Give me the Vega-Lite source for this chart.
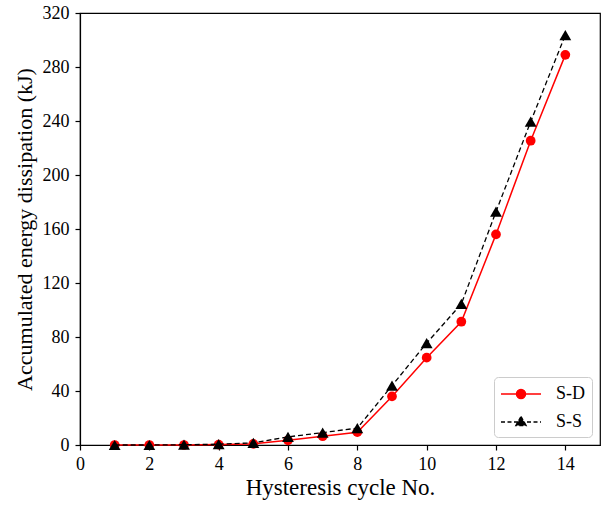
{
  "$schema": "https://vega.github.io/schema/vega-lite/v6.json",
  "width": 520,
  "height": 432,
  "padding": {"left": 80, "top": 13, "right": 1, "bottom": 60},
  "autosize": {"type": "none"},
  "background": "white",
  "data": {
    "values": [
      {"cycle": 1, "series": "S-D", "energy": 0},
      {"cycle": 2, "series": "S-D", "energy": 0},
      {"cycle": 3, "series": "S-D", "energy": 0},
      {"cycle": 4, "series": "S-D", "energy": 0.3},
      {"cycle": 5, "series": "S-D", "energy": 0.8},
      {"cycle": 6, "series": "S-D", "energy": 3.5},
      {"cycle": 7, "series": "S-D", "energy": 6.5},
      {"cycle": 8, "series": "S-D", "energy": 9.5},
      {"cycle": 9, "series": "S-D", "energy": 36},
      {"cycle": 10, "series": "S-D", "energy": 64.7},
      {"cycle": 11, "series": "S-D", "energy": 91.3},
      {"cycle": 12, "series": "S-D", "energy": 156},
      {"cycle": 13, "series": "S-D", "energy": 225.4},
      {"cycle": 14, "series": "S-D", "energy": 289},
      {"cycle": 1, "series": "S-S", "energy": 0},
      {"cycle": 2, "series": "S-S", "energy": 0},
      {"cycle": 3, "series": "S-S", "energy": 0.2},
      {"cycle": 4, "series": "S-S", "energy": 0.6},
      {"cycle": 5, "series": "S-S", "energy": 1.6},
      {"cycle": 6, "series": "S-S", "energy": 6},
      {"cycle": 7, "series": "S-S", "energy": 9.2},
      {"cycle": 8, "series": "S-S", "energy": 12.5},
      {"cycle": 9, "series": "S-S", "energy": 44},
      {"cycle": 10, "series": "S-S", "energy": 75.5},
      {"cycle": 11, "series": "S-S", "energy": 104.5},
      {"cycle": 12, "series": "S-S", "energy": 172.8},
      {"cycle": 13, "series": "S-S", "energy": 239.5},
      {"cycle": 14, "series": "S-S", "energy": 303.7}
    ]
  },
  "encoding": {
    "x": {
      "field": "cycle",
      "type": "quantitative",
      "scale": {"domain": [0, 15], "nice": false},
      "axis": {"values": [0, 2, 4, 6, 8, 10, 12, 14], "title": "Hysteresis cycle No."}
    },
    "y": {
      "field": "energy",
      "type": "quantitative",
      "scale": {"domain": [0, 320], "nice": false},
      "axis": {"values": [0, 40, 80, 120, 160, 200, 240, 280, 320], "title": "Accumulated energy dissipation (kJ)"}
    }
  },
  "layer": [
    {
      "transform": [{"filter": "datum.series === 'S-D'"}],
      "mark": {"type": "line", "color": "#ff0000", "strokeWidth": 1.5}
    },
    {
      "transform": [{"filter": "datum.series === 'S-D'"}],
      "mark": {"type": "point", "shape": "circle", "filled": true, "opacity": 1, "size": 95},
      "encoding": {
        "color": {
          "field": "series",
          "type": "nominal",
          "scale": {"domain": ["S-D", "S-S"], "range": ["#ff0000", "#000000"]},
          "legend": {
            "title": null,
            "orient": "none",
            "legendX": 414,
            "legendY": 364,
            "direction": "vertical",
            "padding": 6,
            "fillColor": "white",
            "strokeColor": "#cccccc",
            "cornerRadius": 4,
            "labelFont": "Liberation Serif",
            "labelFontSize": 18,
            "labelColor": "black",
            "labelOffset": 24,
            "rowPadding": 8,
            "symbolSize": 400,
            "symbolOffset": 10,
            "symbolStrokeWidth": 1.5,
            "symbolOpacity": 1,
            "encode": {
              "symbols": {
                "update": {
                  "shape": {"signal": "datum.value === 'S-D' ? 'M-2,0H2M0.45,0A0.45,0.45 0 1,1 -0.45,0A0.45,0.45 0 1,1 0.45,0Z' : 'M-2,0H2M0,-0.55L0.5,0.35L-0.5,0.35Z'"},
                  "strokeDash": {"signal": "datum.value === 'S-S' ? [4, 2.5] : []"},
                  "fill": {"signal": "datum.value === 'S-D' ? '#ff0000' : '#000000'"},
                  "stroke": {"signal": "datum.value === 'S-D' ? '#ff0000' : '#000000'"}
                }
              }
            }
          }
        }
      }
    },
    {
      "transform": [{"filter": "datum.series === 'S-S'"}],
      "mark": {"type": "line", "color": "#000000", "strokeWidth": 1.3, "strokeDash": [5, 3]}
    },
    {
      "transform": [{"filter": "datum.series === 'S-S'"}],
      "mark": {"type": "point", "shape": "triangle-up", "filled": true, "opacity": 1, "size": 140, "color": "#000000"}
    }
  ],
  "config": {
    "view": {"stroke": "black", "strokeWidth": 1.2},
    "axis": {
      "grid": false,
      "labelFlush": false,
      "domainColor": "black",
      "domainWidth": 1.2,
      "tickColor": "black",
      "tickWidth": 1.2,
      "tickSize": 5,
      "labelFont": "Liberation Serif",
      "labelFontSize": 18,
      "labelColor": "black",
      "titleFont": "Liberation Serif",
      "titleFontWeight": "normal",
      "titleColor": "black"
    },
    "axisX": {"titlePadding": 3, "labelPadding": 5, "titleFontSize": 23},
    "axisY": {"titlePadding": 6, "labelPadding": 6, "titleFontSize": 22}
  }
}
